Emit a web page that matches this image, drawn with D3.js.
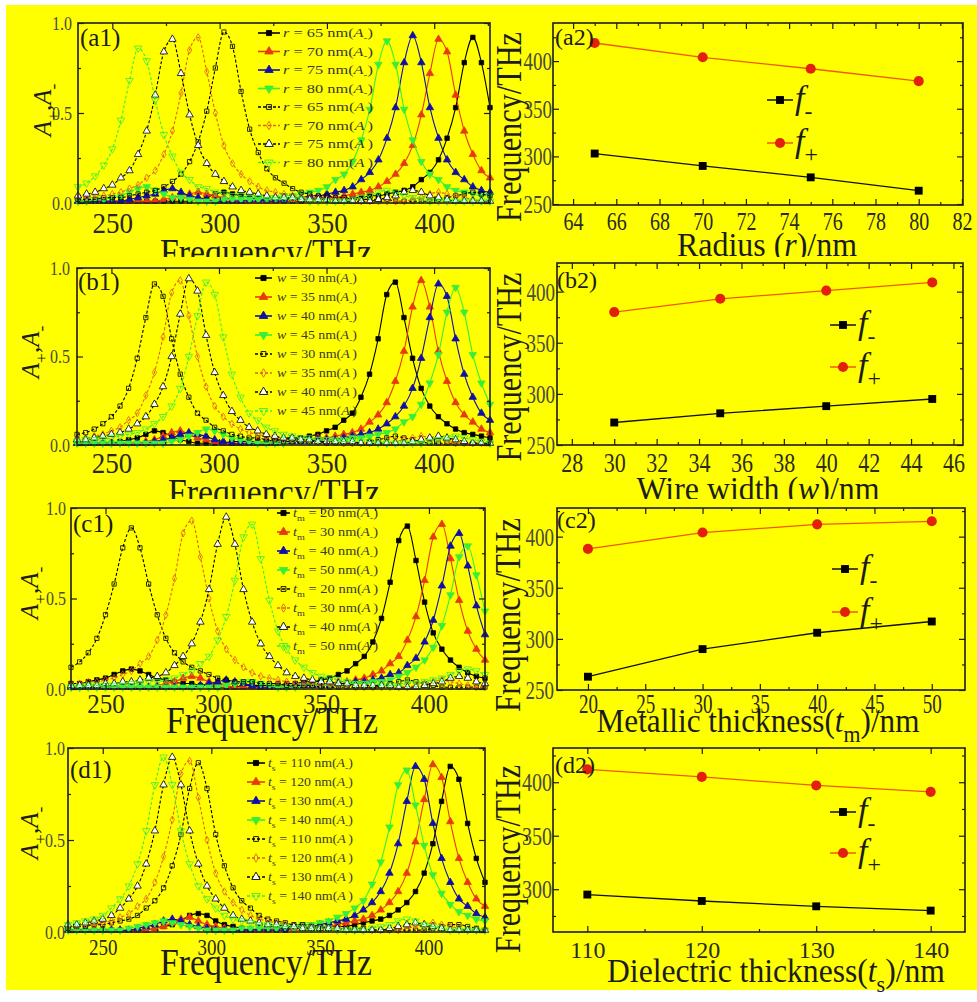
<!DOCTYPE html>
<html>
<head>
<meta charset="utf-8">
<title>Absorption spectra and resonance frequencies</title>
<script src="https://cdn.jsdelivr.net/npm/d3@7/dist/d3.min.js"></script>
<style>
  html, body { margin: 0; padding: 0; background: #ffffff; }
  svg { display: block; }
  text { font-family: "Liberation Serif", "Times New Roman", serif; }
</style>
</head>
<body>
<svg id="fig" width="977" height="1002" font-family="Liberation Serif, serif"></svg>
<script>
/*
Data
*/

// frequency grid of every spectrum (THz)
const freq = [234,238,242,246,250,254,258,262,266,270,274,278,282,286,290,294,298,302,306,310,314,318,322,326,330,334,338,342,346,350,354,358,362,366,370,374,378,382,386,390,394,398,402,406,410,414,418,422,426];

// spectra values are in units of 0.01
// (a1) radius r, A- then A+
const radii = [65, 70, 75, 80];
const a_m65 = [1,1,1,1,1,1,1,1,1,1,1,1,1,1,2,3,5,6,5,4,3,2,1,1,1,1,1,2,2,2,2,2,3,3,4,4,5,6,7,9,13,17,24,36,53,78,92,78,53];
const a_m70 = [1,1,1,1,1,1,1,1,1,1,2,3,4,5,6,5,4,3,2,1,1,1,1,1,2,2,2,2,3,3,3,4,5,6,7,9,12,16,22,32,49,72,91,84,60,40,27,18,14];
const a_m75 = [1,1,1,1,1,1,2,3,4,5,7,8,6,4,3,2,1,1,1,1,2,2,2,2,2,3,3,4,4,5,6,7,9,13,17,24,36,53,78,93,78,53,36,24,17,13,9,7,6];
const a_m80 = [1,1,2,2,3,4,6,8,9,7,5,3,3,2,1,1,1,2,2,2,2,2,3,3,4,4,5,6,7,9,13,16,23,35,52,77,90,77,52,35,23,16,13,9,7,6,5,4,4];
const a_p65 = [2,2,2,3,3,3,4,5,6,7,9,12,16,23,34,51,75,95,87,62,41,28,19,14,11,8,6,5,4,4,3,3,2,2,2,2,2,1,1,1,1,1,2,3,4,5,6,5,4];
const a_p70 = [3,3,4,4,5,6,8,10,14,18,27,40,61,85,92,73,50,32,22,16,12,9,7,6,5,4,3,3,3,2,2,2,2,1,1,1,1,1,1,2,3,5,6,5,4,3,2,1,1];
const a_p75 = [4,5,6,8,10,14,18,27,40,60,84,91,72,49,32,22,16,12,9,7,6,5,4,3,3,3,2,2,2,2,1,1,1,1,1,2,3,4,6,7,6,4,3,2,1,1,1,1,1];
const a_p80 = [9,11,15,21,30,46,68,86,79,57,38,26,17,13,9,8,6,5,4,4,3,3,2,2,2,2,2,1,1,1,1,1,2,3,4,6,7,6,4,3,2,1,1,1,1,1,1,1,1];

// (b1) wire width w
const widths = [30, 35, 40, 45];
const b_m30 = [1,1,1,1,1,2,3,4,6,8,7,5,3,2,1,1,1,1,2,2,2,2,2,3,3,4,4,5,6,8,10,14,18,27,40,60,85,92,72,49,32,22,16,12,9,7,6,5,4];
const b_m35 = [1,1,1,1,1,1,1,1,2,3,5,7,8,6,4,3,2,1,1,1,1,2,2,2,2,2,3,3,4,4,5,6,7,9,13,17,24,36,53,78,93,78,53,36,24,17,13,9,7];
const b_m40 = [1,1,1,1,1,1,1,1,1,2,3,4,6,7,6,5,3,2,1,1,1,1,1,1,2,2,2,2,3,3,3,4,5,6,7,9,12,16,22,32,49,72,91,84,60,40,27,18,14];
const b_m45 = [1,1,1,1,1,1,1,1,1,1,1,2,3,5,7,9,8,6,4,3,2,1,1,1,1,2,2,2,2,2,3,3,4,4,5,6,7,9,13,16,23,35,51,75,89,75,51,35,23];
const b_p30 = [6,7,9,12,16,22,32,49,72,91,84,60,40,27,18,14,10,8,6,5,4,4,3,3,2,2,2,2,2,1,1,1,1,1,2,3,4,5,4,3,2,1,1,1,1,1,1,1,1];
const b_p35 = [4,4,5,6,8,10,14,18,28,41,61,86,93,73,50,33,22,16,12,9,7,6,5,4,3,3,3,2,2,2,2,1,1,1,1,1,1,2,3,4,5,4,3,2,1,1,1,1,1];
const b_p40 = [3,3,4,5,6,7,9,12,16,23,33,50,74,94,87,62,41,28,19,14,10,8,6,5,4,4,3,3,2,2,2,2,2,1,1,1,1,1,1,2,3,4,5,4,3,2,1,1,1];
const b_p45 = [2,3,3,3,4,5,6,7,9,12,16,22,32,50,73,92,85,61,40,27,18,14,10,8,6,5,4,4,3,3,2,2,2,2,2,1,1,1,1,1,1,2,3,4,5,4,3,2,1];

// (c1) metallic thickness tm
const metalT = [20, 30, 40, 50];
const c_m20 = [3,3,4,5,6,8,10,11,10,8,6,5,4,3,3,2,2,1,1,1,2,2,2,2,2,3,3,4,4,5,6,8,10,14,18,26,39,59,82,90,71,48,31,22,16,12,9,7,6];
const c_m30 = [1,1,1,1,1,1,1,1,1,1,2,3,4,6,7,6,4,3,2,1,1,1,1,1,2,2,2,2,2,3,3,4,4,5,6,8,10,14,18,27,40,60,84,91,72,49,32,22,16];
const c_m40 = [1,1,1,1,1,1,1,1,1,1,1,1,1,1,1,2,3,4,5,4,3,2,1,1,1,1,2,2,2,2,2,3,3,4,4,5,6,8,9,13,17,26,38,57,79,86,68,46,30];
const c_m50 = [1,1,1,1,1,1,1,1,1,1,1,1,1,1,1,1,1,1,2,3,4,4,3,2,1,1,1,2,2,2,2,2,3,3,3,4,4,5,7,9,12,16,23,35,52,73,79,63,43];
const c_p20 = [12,15,20,28,41,58,78,89,78,58,41,28,20,15,12,10,8,6,5,4,4,4,3,3,3,2,2,2,2,1,1,1,1,1,1,1,2,3,4,5,4,3,2,1,1,1,1,1,1];
const c_p30 = [3,3,4,4,5,6,8,10,14,18,27,41,61,86,93,73,50,32,22,16,12,9,7,6,5,4,3,3,3,2,2,2,2,1,1,1,1,1,1,1,2,3,4,5,4,3,2,1,1];
const c_p40 = [2,2,2,2,3,3,4,4,5,6,7,9,13,18,25,37,55,80,95,80,55,37,25,18,13,9,7,6,5,4,4,3,3,2,2,2,2,2,1,1,1,2,3,4,6,7,6,4,3];
const c_p50 = [1,1,2,2,2,2,2,3,3,4,4,5,6,8,10,14,18,27,40,60,84,91,72,49,32,22,16,12,9,7,6,5,4,3,3,3,2,2,2,3,3,4,5,6,8,10,11,10,8];

// (d1) dielectric thickness ts
const dielT = [110, 120, 130, 140];
const d_m110 = [1,1,1,1,1,1,1,1,1,1,2,3,4,6,9,10,9,6,4,3,2,1,1,1,1,1,2,2,2,2,3,3,3,4,5,6,7,9,12,16,22,32,48,71,90,83,59,40,27];
const d_m120 = [1,1,1,1,1,1,1,1,1,1,2,3,5,7,8,6,4,3,2,1,1,1,1,1,2,2,2,2,3,3,3,4,5,6,7,9,12,16,22,32,49,72,91,84,60,40,27,18,14];
const d_m130 = [1,1,1,1,1,1,1,1,2,3,4,6,7,6,4,3,2,1,1,1,1,1,2,2,2,2,3,3,3,4,5,6,7,9,12,16,22,32,48,71,90,83,59,40,27,18,14,10,8];
const d_m140 = [1,1,1,1,1,1,1,2,3,4,5,6,5,4,3,2,1,1,1,1,2,2,2,2,2,3,3,4,4,5,6,8,10,13,17,26,38,57,80,88,69,47,31,21,15,11,9,7,6];
const d_p110 = [2,3,3,4,4,5,6,7,9,13,17,24,36,53,78,92,78,53,36,24,17,13,9,7,6,5,4,4,3,3,2,2,2,2,2,1,1,1,1,1,1,1,2,3,4,4,3,2,1];
const d_p120 = [3,3,4,4,5,6,8,10,14,18,27,41,61,86,93,73,50,32,22,16,12,9,7,6,5,4,3,3,3,2,2,2,2,1,1,1,1,1,1,2,3,4,5,4,3,2,1,1,1];
const d_p130 = [4,4,5,6,7,9,13,18,25,37,55,80,95,80,55,37,25,18,13,9,7,6,5,4,4,3,3,2,2,2,2,2,1,1,1,1,1,2,3,4,5,4,3,2,1,1,1,1,1];
const d_p140 = [4,5,6,7,9,13,18,25,37,55,80,95,80,55,37,25,18,13,9,7,6,5,4,4,3,3,2,2,2,2,2,1,1,1,1,2,3,4,6,7,6,4,3,2,1,1,1,1,1];

// resonance frequencies f- and f+ (THz)
const aFminus = [303, 290, 278, 264];
const aFplus  = [419, 404, 392, 379];
const bFminus = [272, 281, 288, 295];
const bFplus  = [380, 393, 401, 409];
const cFminus = [263, 290, 306, 317];
const cFplus  = [388, 404, 412, 415];
const dFminus = [295, 289, 284, 280];
const dFplus  = [412, 405, 397, 391];

// tick values
const specXMajor = [250, 300, 350, 400];
const specXMinor = [275, 325, 375, 425];
const specYMajor = [0, 0.5, 1];
const specYMinor = [0.25, 0.75];
const fYMajor = [250, 300, 350, 400];
const fYMinor = [275, 325, 375, 425];
const dYMajor = [300, 350, 400];
const rXMajor = [64, 66, 68, 70, 72, 74, 76, 78, 80, 82];
const rXMinor = [65, 67, 69, 71, 73, 75, 77, 79, 81];
const wXMajor = [28, 30, 32, 34, 36, 38, 40, 42, 44, 46];
const wXMinor = [29, 31, 33, 35, 37, 39, 41, 43, 45];
const tmXMajor = [20, 25, 30, 35, 40, 45, 50];
const tmXMinor = [22.5, 27.5, 32.5, 37.5, 42.5, 47.5];
const tsXMajor = [110, 120, 130, 140];
const tsXMinor = [115, 125, 135];

/*
Styles
*/

const BG = "#ffff00";
const INK = "#1c1c1c";

// one style per legend row: A- (solid, filled) then A+ (dashed, open)
const spectraStyle = [
  { color: "#000000", dash: false, shape: "square",  fill: "#000000", size: 20 },
  { color: "#e83a10", dash: false, shape: "triUp",   fill: "#e83a10", size: 24 },
  { color: "#1010a6", dash: false, shape: "triUp",   fill: "#1010a6", size: 24 },
  { color: "#38ee38", dash: false, shape: "triDown", fill: "#38ee38", size: 24 },
  { color: "#000000", dash: true,  shape: "square",  fill: "none",    size: 18 },
  { color: "#e0641c", dash: true,  shape: "diamond", fill: "none",    size: 16 },
  { color: "#000000", dash: true,  shape: "triUp",   fill: "#ffffff", size: 24 },
  { color: "#38ee38", dash: true,  shape: "triDown", fill: "none",    size: 24 }
];

/*
Helpers
*/

const svg = d3.select("#fig");

// text made of pieces: plain strings or {t, i (italic), sub (subscript)}
function richText(parent, x, y, parts, o) {
  const g = parent.append("g");
  const t = g.append("text")
    .attr("font-size", o.size)
    .attr("fill", o.color || INK)
    .attr("text-anchor", o.anchor || "start");
  let shift = 0;
  parts.forEach(p => {
    if (typeof p === "string") p = { t: p };
    const s = t.append("tspan").text(p.t);
    if (p.i) s.attr("font-style", "italic");
    const want = p.sub ? o.size * 0.3 : 0;
    if (want !== shift) s.attr("dy", want - shift);
    shift = want;
    if (p.sub) s.attr("font-size", o.size * 0.7);
  });
  let sx = 1;
  if (o.width) sx = o.width / t.node().getComputedTextLength();
  g.attr("transform", `translate(${x},${y}) rotate(${o.rotate || 0}) scale(${sx},${o.sy || 1})`);
  return g;
}

function symbolPath(shape, size) {
  const type = {
    square: d3.symbolSquare, triUp: d3.symbolTriangle, triDown: d3.symbolTriangle,
    diamond: d3.symbolDiamond, circle: d3.symbolCircle
  }[shape];
  return d3.symbol().type(type).size(size)();
}

function markerAt(x, y, shape) {
  return `translate(${x},${y})` + (shape === "triDown" ? " rotate(180)" : "");
}

// frame, inward ticks on four sides, tick labels on bottom and left
function drawAxes(g, x, y, P, T) {
  const mk = (axisFn, scale, vals, len, at, fmt) => {
    const ag = g.append("g")
      .attr("transform", at)
      .call(axisFn(scale).tickValues(vals).tickSize(-len).tickPadding(0).tickFormat(fmt || (() => "")));
    ag.select(".domain").remove();
    ag.attr("font-family", null).attr("font-size", null).attr("color", INK);
    ag.selectAll("line").attr("stroke-width", 1.2);
    return ag;
  };
  const bottom = mk(d3.axisBottom, x, T.xMajor, 6, `translate(0,${P.y1})`, T.xFmt);
  if (T.xMinor) mk(d3.axisBottom, x, T.xMinor, 3, `translate(0,${P.y1})`);
  mk(d3.axisTop, x, T.xMajor, 6, `translate(0,${P.y0})`);
  if (T.xMinor) mk(d3.axisTop, x, T.xMinor, 3, `translate(0,${P.y0})`);
  const left = mk(d3.axisLeft, y, T.yMajor, 6, `translate(${P.x0},0)`, T.yFmt);
  mk(d3.axisLeft, y, T.yMinor, 3, `translate(${P.x0},0)`);
  mk(d3.axisRight, y, T.yMajor, 6, `translate(${P.x1},0)`);
  mk(d3.axisRight, y, T.yMinor, 3, `translate(${P.x1},0)`);

  bottom.selectAll("text")
    .attr("y", 0).attr("dy", null)
    .attr("font-size", P.xLab.size).attr("fill", "#2a2a22")
    .attr("transform", `translate(0,${P.xLab.base}) scale(1,${P.xLab.sy})`);
  left.selectAll("text")
    .attr("x", 0).attr("dy", null).attr("text-anchor", "end")
    .attr("font-size", P.yLab.size).attr("fill", "#4a4a3a")
    .attr("transform", `translate(${-P.yLab.pad},${0.34 * P.yLab.size * P.yLab.sy}) scale(1,${P.yLab.sy})`);

  g.append("rect")
    .attr("x", P.x0).attr("y", P.y0)
    .attr("width", P.x1 - P.x0).attr("height", P.y1 - P.y0)
    .attr("fill", "none").attr("stroke", INK).attr("stroke-width", 1.6);
}

/*
Spectra panels (left column)
*/

function spectraPanel(parent, P, series, legendText) {
  const g = parent.append("g");
  const x = d3.scaleLinear().domain([234, 426]).range([P.x0, P.x1]);
  const y = d3.scaleLinear().domain([0, 1]).range([P.y1, P.y0]);

  const line = d3.line()
    .x((d, i) => x(freq[i]))
    .y(d => y(d / 100))
    .curve(d3.curveMonotoneX);

  series.forEach((vals, k) => {
    const st = spectraStyle[k];
    g.append("path")
      .attr("d", line(vals))
      .attr("fill", "none")
      .attr("stroke", st.color)
      .attr("stroke-width", 1.1)
      .attr("stroke-dasharray", st.dash ? "3,2" : null);
    g.append("g").selectAll("path")
      .data(vals)
      .join("path")
      .attr("transform", (d, i) => markerAt(x(freq[i]), y(d / 100), st.shape))
      .attr("d", symbolPath(st.shape, st.size))
      .attr("fill", st.fill)
      .attr("stroke", st.color)
      .attr("stroke-width", 0.8);
  });

  drawAxes(g, x, y, P, {
    xMajor: specXMajor, xMinor: specXMinor, xFmt: d3.format("d"),
    yMajor: specYMajor, yMinor: specYMinor, yFmt: d3.format(".1f")
  });

  // legend
  const L = P.legend;
  legendText.forEach((parts, k) => {
    const st = spectraStyle[k];
    const ly = L.y + k * L.dy;
    g.append("line")
      .attr("x1", L.x).attr("x2", L.x + L.len).attr("y1", ly).attr("y2", ly)
      .attr("stroke", st.color).attr("stroke-width", 1.6)
      .attr("stroke-dasharray", st.dash ? "3,2" : null);
    g.append("path")
      .attr("transform", markerAt(L.x + L.len / 2, ly, st.shape))
      .attr("d", symbolPath(st.shape, st.size * 1.3))
      .attr("fill", st.fill).attr("stroke", st.color).attr("stroke-width", 0.9);
    richText(g, L.tx, ly + 4, parts, { size: 12, width: L.tw, color: "#3a3a30" });
  });

  richText(g, P.tagX, P.tagY, ["(" + P.tag + ")"], { size: 25 });
  richText(g, P.yTitle.x, P.yTitle.y,
    [{ t: "A", i: 1 }, { t: "+", sub: 1 }, ",", { t: "A", i: 1 }, { t: "-", sub: 1 }],
    { size: 25, anchor: "middle", rotate: -90 });
  richText(g, P.title.x, P.title.y, ["Frequency/THz"],
    { size: 38, anchor: "middle", width: 212 });
}

function legendRows(symbolParts, values) {
  const rows = [];
  ["-", "+"].forEach(sign => {
    values.forEach(v => {
      rows.push(symbolParts.concat([" = " + v + " nm(", { t: "A", i: 1 }, { t: sign === "-" ? "-" : " ", sub: 1 }, ")"]));
    });
  });
  return rows;
}

/*
Resonance panels (right column)
*/

function peakPanel(parent, P, xs, fMinus, fPlus, T) {
  const g = parent.append("g");
  const x = d3.scaleLinear().domain(P.xDom).range([P.x0, P.x1]);
  const y = d3.scaleLinear().domain(P.yDom).range([P.y1, P.y0]);

  const line = d3.line().x((d, i) => x(xs[i])).y(d => y(d));
  const series = [
    { vals: fMinus, line: "#111111", fill: "#000000", shape: "square", size: 62 },
    { vals: fPlus,  line: "#f05a00", fill: "#e2200c", shape: "circle", size: 80 }
  ];
  series.forEach(s => {
    g.append("path").attr("d", line(s.vals))
      .attr("fill", "none").attr("stroke", s.line).attr("stroke-width", 1.3);
    g.append("g").selectAll("path").data(s.vals).join("path")
      .attr("transform", (d, i) => markerAt(x(xs[i]), y(d), s.shape))
      .attr("d", symbolPath(s.shape, s.size))
      .attr("fill", s.fill);
  });

  drawAxes(g, x, y, P, Object.assign({ xFmt: d3.format("d"), yFmt: d3.format("d") }, T));

  // legend f- / f+
  const L = P.legend;
  series.forEach((s, k) => {
    const ly = L.y[k];
    g.append("line").attr("x1", L.x - 13).attr("x2", L.x + 13).attr("y1", ly).attr("y2", ly)
      .attr("stroke", s.line).attr("stroke-width", 1.5);
    g.append("path").attr("transform", markerAt(L.x, ly, s.shape))
      .attr("d", symbolPath(s.shape, s.size)).attr("fill", s.fill);
    richText(g, L.x + 15, ly + 9, [{ t: "f", i: 1 }, { t: k === 0 ? "-" : "+", sub: 1 }],
      { size: 34 });
  });

  richText(g, P.tagX, P.tagY, ["(" + P.tag + ")"], { size: 24 });
  richText(g, P.yTitle.x, P.yTitle.y, ["Frequency/THz"],
    { size: 35, anchor: "middle", rotate: -90, width: P.yTitle.w });
  richText(g, P.title.x, P.title.y, P.title.parts,
    { size: 34, anchor: "middle", width: P.title.w });
}

/*
Layout
*/

const leftPanels = [
  { x0: 78, x1: 490, y0: 23, y1: 203, tag: "a1", tagX: 80, tagY: 46,
    xLab: { base: 30, size: 27, sy: 1.1 }, yLab: { pad: 6, size: 16, sy: 1.15 },
    yTitle: { x: 51, y: 110 }, title: { x: 266, y: 265 },
    legend: { x: 258, len: 22, y: 33, dy: 18.5, tx: 283, tw: 90 } },
  { x0: 77, x1: 490, y0: 268, y1: 445, tag: "b1", tagX: 78, tagY: 290,
    xLab: { base: 28, size: 27, sy: 1.1 }, yLab: { pad: 7, size: 16, sy: 1.15 },
    yTitle: { x: 39, y: 352 }, title: { x: 274, y: 505 },
    legend: { x: 255, len: 17, y: 278, dy: 19, tx: 277, tw: 80 } },
  { x0: 71, x1: 485, y0: 508, y1: 689, tag: "c1", tagX: 73, tagY: 532,
    xLab: { base: 24, size: 25, sy: 1.1 }, yLab: { pad: 5, size: 16, sy: 1.15 },
    yTitle: { x: 38, y: 593 }, title: { x: 272, y: 733 },
    legend: { x: 277, len: 13, y: 513, dy: 19, tx: 293, tw: 85 } },
  { x0: 68, x1: 485, y0: 748, y1: 932, tag: "d1", tagX: 70, tagY: 778,
    xLab: { base: 23, size: 19, sy: 1.17 }, yLab: { pad: 3, size: 16, sy: 1.15 },
    yTitle: { x: 38, y: 833 }, title: { x: 266, y: 975 },
    legend: { x: 247, len: 18, y: 763, dy: 19, tx: 268, tw: 85 } }
];

const rightPanels = [
  { x0: 553, x1: 963, y0: 23, y1: 205, xDom: [63.07, 82.05], yDom: [249, 440], tag: "a2", tagX: 555, tagY: 45,
    xLab: { base: 25, size: 20, sy: 1.3 }, yLab: { pad: 1, size: 19, sy: 1.3 },
    yTitle: { x: 521, y: 127, w: 190 },
    title: { x: 767, y: 256, w: 180, parts: ["Radius (", { t: "r", i: 1 }, ")/nm"] },
    legend: { x: 780, y: [100, 143] } },
  { x0: 557, x1: 963, y0: 263, y1: 445, xDom: [27.3, 46.45], yDom: [250, 428], tag: "b2", tagX: 557, tagY: 288,
    xLab: { base: 27, size: 22, sy: 1.27 }, yLab: { pad: 2, size: 19, sy: 1.3 },
    yTitle: { x: 521, y: 367, w: 189 },
    title: { x: 758, y: 500, w: 243, parts: ["Wire width (", { t: "w", i: 1 }, ")/nm"] },
    legend: { x: 843, y: [325, 367] } },
  { x0: 557, x1: 965, y0: 508, y1: 690, xDom: [17.3, 52.9], yDom: [250, 428], tag: "c2", tagX: 557, tagY: 528,
    xLab: { base: 23, size: 19, sy: 1.4 }, yLab: { pad: 3, size: 19, sy: 1.3 },
    yTitle: { x: 520, y: 615, w: 194 },
    title: { x: 758, y: 732, w: 323, parts: ["Metallic thickness(", { t: "t", i: 1 }, { t: "m", sub: 1 }, ")/nm"] },
    legend: { x: 845, y: [569, 612] } },
  { x0: 553, x1: 965, y0: 748, y1: 932, xDom: [107, 143], yDom: [260, 432], tag: "d2", tagX: 555, tagY: 773,
    xLab: { base: 26, size: 24, sy: 1.0 }, yLab: { pad: 1, size: 20, sy: 1.25 },
    yTitle: { x: 520, y: 859, w: 188 },
    title: { x: 776, y: 982, w: 338, parts: ["Dielectric thickness(", { t: "t", i: 1 }, { t: "s", sub: 1 }, ")/nm"] },
    legend: { x: 843, y: [812, 853] } }
];

const rowTops = [5, 257, 499, 746];

/*
Draw
*/

svg.append("rect").attr("width", 977).attr("height", 1002).attr("fill", "#ffffff");

const rows = [
  { series: [a_m65, a_m70, a_m75, a_m80, a_p65, a_p70, a_p75, a_p80],
    legend: legendRows([{ t: "r", i: 1 }], radii),
    xs: radii, fm: aFminus, fp: aFplus,
    ticks: { xMajor: rXMajor, xMinor: rXMinor, yMajor: fYMajor, yMinor: fYMinor } },
  { series: [b_m30, b_m35, b_m40, b_m45, b_p30, b_p35, b_p40, b_p45],
    legend: legendRows([{ t: "w", i: 1 }], widths),
    xs: widths, fm: bFminus, fp: bFplus,
    ticks: { xMajor: wXMajor, xMinor: wXMinor, yMajor: fYMajor, yMinor: fYMinor } },
  { series: [c_m20, c_m30, c_m40, c_m50, c_p20, c_p30, c_p40, c_p50],
    legend: legendRows([{ t: "t", i: 1 }, { t: "m", sub: 1 }], metalT),
    xs: metalT, fm: cFminus, fp: cFplus,
    ticks: { xMajor: tmXMajor, xMinor: tmXMinor, yMajor: fYMajor, yMinor: fYMinor } },
  { series: [d_m110, d_m120, d_m130, d_m140, d_p110, d_p120, d_p130, d_p140],
    legend: legendRows([{ t: "t", i: 1 }, { t: "s", sub: 1 }], dielT),
    xs: dielT, fm: dFminus, fp: dFplus,
    ticks: { xMajor: tsXMajor, xMinor: tsXMinor, yMajor: dYMajor, yMinor: fYMinor } }
];

rows.forEach((row, r) => {
  const g = svg.append("g");
  // each row sits on its own sheet, covering the bottom of the row above
  g.append("rect")
    .attr("x", 6).attr("y", rowTops[r])
    .attr("width", 971).attr("height", 990 - rowTops[r])
    .attr("fill", BG);
  spectraPanel(g, leftPanels[r], row.series, row.legend);
  peakPanel(g, rightPanels[r], row.xs, row.fm, row.fp, row.ticks);
});
</script>
</body>
</html>
